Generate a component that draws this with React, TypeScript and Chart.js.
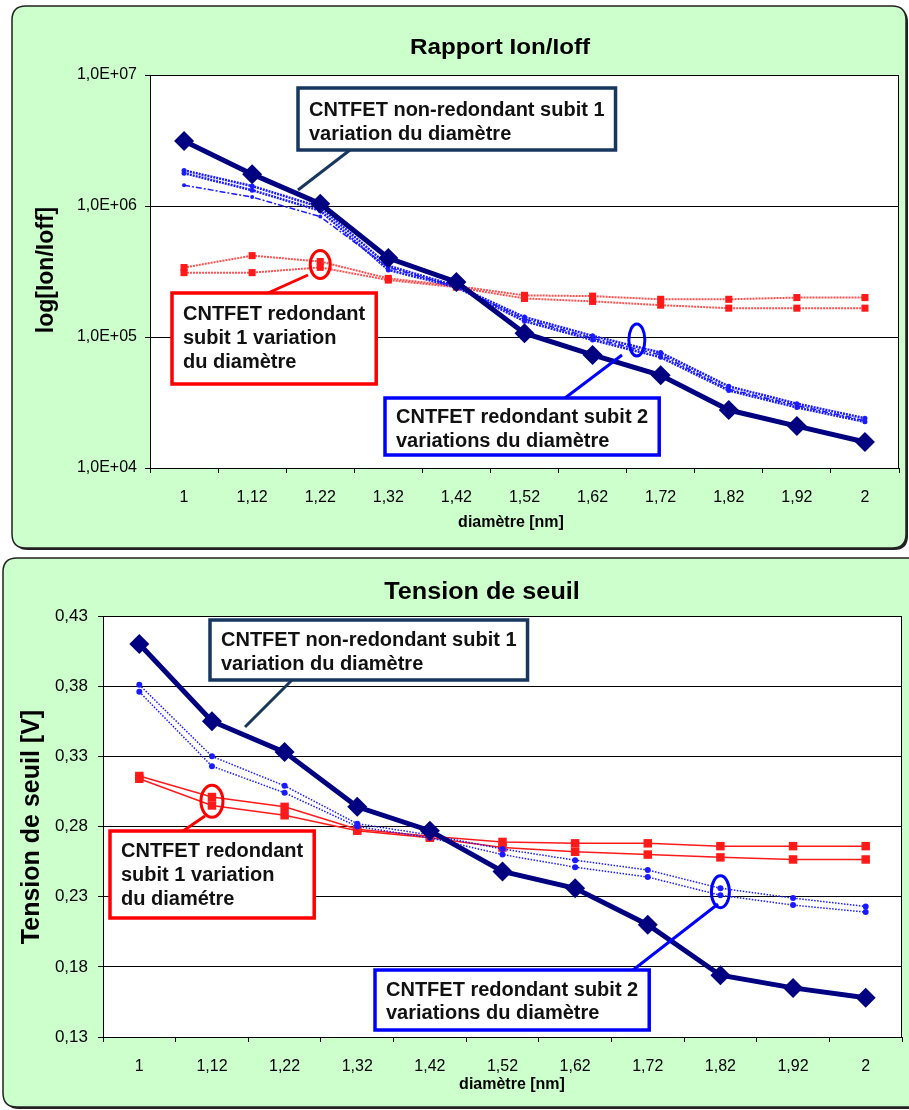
import React, { useEffect, useRef } from 'react';
import { Chart, registerables } from 'chart.js';

Chart.register(...registerables);

// ---------- data ----------
const diameters = ['1', '1,12', '1,22', '1,32', '1,42', '1,52', '1,62', '1,72', '1,82', '1,92', '2'];

// Rapport Ion/Ioff
const ratioNonRedondant = [3.13e6, 1.75e6, 1.04e6, 4.01e5, 2.63e5, 1.07e5, 7.3e4, 5.1e4, 2.77e4, 2.09e4, 1.58e4];
const ratioRed2A = [1.87e6, 1.42e6, 9.8e5, 3.5e5, 2.45e5, 1.42e5, 1.02e5, 7.6e4, 4.2e4, 3.1e4, 2.4e4];
const ratioRed2B = [1.78e6, 1.32e6, 9.2e5, 3.25e5, 2.4e5, 1.32e5, 9.5e4, 7.0e4, 3.9e4, 2.9e4, 2.25e4];
const ratioRed2C = [1.44e6, 1.17e6, 8.3e5, 3.4e5, 2.42e5, 1.37e5, 9.8e4, 7.3e4, 4.0e4, 3.0e4, 2.3e4];
const ratioRed1A = [3.39e5, 4.18e5, 3.77e5, 2.8e5, 2.45e5, 2.08e5, 2.05e5, 1.94e5, 1.94e5, 2.0e5, 2.0e5];
const ratioRed1B = [3.1e5, 3.1e5, 3.4e5, 2.72e5, 2.4e5, 1.97e5, 1.87e5, 1.75e5, 1.66e5, 1.66e5, 1.66e5];
const ratioTicks = [1e4, 1e5, 1e6, 1e7];

// Tension de seuil
const vthNonRedondant = [0.41, 0.355, 0.333, 0.294, 0.277, 0.248, 0.236, 0.21, 0.174, 0.165, 0.158];
const vthRed2A = [0.381, 0.33, 0.309, 0.282, 0.274, 0.264, 0.256, 0.249, 0.236, 0.229, 0.223];
const vthRed2B = [0.376, 0.323, 0.304, 0.28, 0.272, 0.26, 0.251, 0.244, 0.231, 0.224, 0.219];
const vthRed1A = [0.316, 0.301, 0.294, 0.278, 0.273, 0.269, 0.268, 0.268, 0.266, 0.266, 0.266];
const vthRed1B = [0.314, 0.295, 0.288, 0.277, 0.272, 0.265, 0.262, 0.26, 0.258, 0.2565, 0.2565];
const vthTicks = [0.13, 0.18, 0.23, 0.28, 0.33, 0.38, 0.43];

// ---------- styling helpers ----------
const FONT = "'Liberation Sans', Arial, sans-serif";
const NAVY = '#000080';
const BLUE = '#1a1aff';
const RED = '#ff1a1a';
const GREEN = '#ccffcc';

type TextOpts = { bold?: boolean; align?: CanvasTextAlign; sx?: number; rot?: number; color?: string };
function drawText(ctx: CanvasRenderingContext2D, s: string, x: number, y: number, size: number, o: TextOpts = {}) {
  ctx.save();
  ctx.translate(x, y);
  if (o.rot) ctx.rotate(o.rot);
  ctx.scale(o.sx ?? 1, 1);
  ctx.font = `${o.bold ? 'bold ' : ''}${size}px ${FONT}`;
  ctx.textAlign = o.align ?? 'center';
  ctx.textBaseline = 'middle';
  ctx.fillStyle = o.color ?? '#000';
  ctx.fillText(s, 0, 0);
  ctx.restore();
}

function roundRect(ctx: CanvasRenderingContext2D, x: number, y: number, w: number, h: number, r: number) {
  ctx.beginPath();
  ctx.moveTo(x + r, y);
  ctx.lineTo(x + w - r, y);
  ctx.quadraticCurveTo(x + w, y, x + w, y + r);
  ctx.lineTo(x + w, y + h - r);
  ctx.quadraticCurveTo(x + w, y + h, x + w - r, y + h);
  ctx.lineTo(x + r, y + h);
  ctx.quadraticCurveTo(x, y + h, x, y + h - r);
  ctx.lineTo(x, y + r);
  ctx.quadraticCurveTo(x, y, x + r, y);
  ctx.closePath();
}

type Box = { left: number; top: number; height: number; lines: string[]; lineY: number[]; color: string };
type Ell = { index: number; value: number; rx: number; ry: number; color: string };
type Leader = { x1: number; y1: number; x2: number; y2: number; color: string };
type Label = { text: string; x: number; y: number; size: number; sx?: number };
type PanelCfg = {
  panel: { x: number; y: number; w: number; h: number };
  title: Label;
  yTitle: Label;
  xTitle: Label;
  boxes: Box[];
  ellipses: Ell[];
  leaders: Leader[];
};

const BOX_FONT = 20;

function panelPlugin(cfg: PanelCfg) {
  return {
    id: 'panelDeco',
    beforeDraw(chart: any) {
      const ctx: CanvasRenderingContext2D = chart.ctx;
      const { x, y, w, h } = cfg.panel;
      ctx.save();
      roundRect(ctx, x + 2, y + 2, w, h, 14);
      ctx.fillStyle = '#222';
      ctx.fill();
      roundRect(ctx, x, y, w, h, 14);
      ctx.fillStyle = GREEN;
      ctx.fill();
      ctx.lineWidth = 1.5;
      ctx.strokeStyle = '#222';
      ctx.stroke();
      const a = chart.chartArea;
      ctx.fillStyle = '#fff';
      ctx.fillRect(a.left, a.top, a.right - a.left, a.bottom - a.top);
      ctx.restore();
      drawText(ctx, cfg.title.text, cfg.title.x, cfg.title.y, cfg.title.size, { bold: true, sx: cfg.title.sx });
      drawText(ctx, cfg.yTitle.text, cfg.yTitle.x, cfg.yTitle.y, cfg.yTitle.size, { bold: true, rot: -Math.PI / 2, sx: cfg.yTitle.sx });
      drawText(ctx, cfg.xTitle.text, cfg.xTitle.x, cfg.xTitle.y, cfg.xTitle.size, { bold: true, sx: cfg.xTitle.sx });
    },
    afterDatasetsDraw(chart: any) {
      const ctx: CanvasRenderingContext2D = chart.ctx;
      const a = chart.chartArea;
      ctx.save();
      ctx.strokeStyle = '#000';
      ctx.lineWidth = 1;
      ctx.strokeRect(a.left + 0.5, a.top + 0.5, a.right - a.left - 1, a.bottom - a.top);
      ctx.lineWidth = 3;
      for (const l of cfg.leaders) {
        ctx.strokeStyle = l.color;
        ctx.beginPath();
        ctx.moveTo(l.x1, l.y1);
        ctx.lineTo(l.x2, l.y2);
        ctx.stroke();
      }
      const xs = chart.scales.x;
      const ys = chart.scales.y;
      for (const e of cfg.ellipses) {
        const cx = xs.getPixelForValue(e.index);
        const cy = ys.getPixelForValue(e.value);
        ctx.strokeStyle = e.color;
        ctx.beginPath();
        ctx.ellipse(cx, cy, e.rx, e.ry, 0, 0, Math.PI * 2);
        ctx.stroke();
      }
      ctx.font = `bold ${BOX_FONT}px ${FONT}`;
      for (const b of cfg.boxes) {
        const tw = Math.max(...b.lines.map((s) => ctx.measureText(s).width));
        const w = tw + 22;
        ctx.fillStyle = '#fff';
        ctx.fillRect(b.left, b.top, w, b.height);
        ctx.strokeStyle = b.color;
        ctx.lineWidth = 3.5;
        ctx.strokeRect(b.left, b.top, w, b.height);
        b.lines.forEach((s, i) => drawText(ctx, s, b.left + 11, b.lineY[i], BOX_FONT, { bold: true, align: 'left', color: '#111' }));
      }
      ctx.restore();
    },
  };
}

function useChart(ref: React.RefObject<HTMLCanvasElement>, make: () => any) {
  useEffect(() => {
    if (!ref.current) return;
    const chart = new Chart(ref.current, make());
    return () => chart.destroy();
  }, []);
}

const tickFont = (size: number) => ({ family: FONT, size });

export default function App() {
  const ref1 = useRef<HTMLCanvasElement>(null);
  const ref2 = useRef<HTMLCanvasElement>(null);

  useChart(ref1, () => ({
    type: 'line',
    data: {
      labels: diameters,
      datasets: [
        { data: ratioNonRedondant, borderColor: NAVY, backgroundColor: NAVY, borderWidth: 5, pointStyle: 'rectRot', pointRadius: 10, pointBorderWidth: 0 },
        { data: ratioRed2A, borderColor: BLUE, backgroundColor: BLUE, borderWidth: 2.5, borderDash: [2, 1], pointRadius: 2.5, pointBorderWidth: 0 },
        { data: ratioRed2B, borderColor: BLUE, backgroundColor: BLUE, borderWidth: 2.5, borderDash: [2, 1], pointRadius: 2.5, pointBorderWidth: 0 },
        { data: ratioRed2C, borderColor: BLUE, backgroundColor: BLUE, borderWidth: 1.5, borderDash: [6, 2, 2, 2], pointRadius: 2, pointBorderWidth: 0 },
        { data: ratioRed1A, borderColor: '#ff5050', backgroundColor: RED, borderWidth: 2, borderDash: [2, 1], pointStyle: 'rect', pointRadius: 5, pointBorderWidth: 0 },
        { data: ratioRed1B, borderColor: '#ff5050', backgroundColor: RED, borderWidth: 2, borderDash: [2, 1], pointStyle: 'rect', pointRadius: 5, pointBorderWidth: 0 },
      ],
    },
    options: {
      animation: false,
      responsive: false,
      devicePixelRatio: 1,
      layout: { padding: { left: 0, right: 8, top: 75, bottom: 0 } },
      plugins: { legend: { display: false }, tooltip: { enabled: false } },
      scales: {
        x: {
          type: 'category',
          offset: true,
          grid: { offset: true, drawOnChartArea: false, drawTicks: true, tickLength: 5, color: '#000' },
          border: { color: '#000' },
          ticks: { color: '#000', font: tickFont(16), padding: 15, maxRotation: 0, autoSkip: false },
          afterFit: (s: any) => { s.height = 85; },
        },
        y: {
          type: 'logarithmic',
          min: 1e4,
          max: 1e7,
          afterBuildTicks: (s: any) => { s.ticks = ratioTicks.map((v) => ({ value: v })); },
          ticks: { color: '#000', font: tickFont(16), padding: 8, callback: (v: number) => `1,0E+0${Math.round(Math.log10(v))}` },
          grid: { color: '#000', tickLength: 5 },
          border: { color: '#000' },
          afterFit: (s: any) => { s.width = 150; },
        },
      },
    },
    plugins: [
      panelPlugin({
        panel: { x: 12, y: 6, w: 894, h: 542 },
        title: { text: 'Rapport Ion/Ioff', x: 500, y: 48, size: 22, sx: 1.1 },
        yTitle: { text: 'log[Ion/Ioff]', x: 47, y: 270, size: 23 },
        xTitle: { text: 'diamètre [nm]', x: 511, y: 523, size: 16 },
        boxes: [
          { left: 298, top: 88, height: 62, lines: ['CNTFET non-redondant subit 1', 'variation du diamètre'], lineY: [110, 134], color: '#17375e' },
          { left: 172, top: 293, height: 91, lines: ['CNTFET redondant', 'subit 1 variation', 'du diamètre'], lineY: [314, 338, 362], color: '#ff0000' },
          { left: 385, top: 398, height: 57, lines: ['CNTFET redondant subit 2', 'variations du diamètre'], lineY: [417, 441], color: '#0000ff' },
        ],
        ellipses: [
          { index: 2, value: 3.58e5, rx: 10, ry: 14, color: '#ff0000' },
          { index: 6.65, value: 9.5e4, rx: 8, ry: 16, color: '#0000ff' },
        ],
        leaders: [
          { x1: 350, y1: 150, x2: 298, y2: 190, color: '#17375e' },
          { x1: 308, y1: 275, x2: 268, y2: 293, color: '#ff0000' },
          { x1: 622, y1: 355, x2: 565, y2: 398, color: '#0000ff' },
        ],
      }),
    ],
  }));

  useChart(ref2, () => ({
    type: 'line',
    data: {
      labels: diameters,
      datasets: [
        { data: vthNonRedondant, borderColor: NAVY, backgroundColor: NAVY, borderWidth: 5, pointStyle: 'rectRot', pointRadius: 10, pointBorderWidth: 0 },
        { data: vthRed2A, borderColor: BLUE, backgroundColor: BLUE, borderWidth: 1.5, borderDash: [1.5, 1.5], pointRadius: 3, pointBorderWidth: 0 },
        { data: vthRed2B, borderColor: BLUE, backgroundColor: BLUE, borderWidth: 1.5, borderDash: [1.5, 1.5], pointRadius: 3, pointBorderWidth: 0 },
        { data: vthRed1A, borderColor: RED, backgroundColor: RED, borderWidth: 1.5, pointStyle: 'rect', pointRadius: 6, pointBorderWidth: 0 },
        { data: vthRed1B, borderColor: RED, backgroundColor: RED, borderWidth: 1.5, pointStyle: 'rect', pointRadius: 6, pointBorderWidth: 0 },
      ],
    },
    options: {
      animation: false,
      responsive: false,
      devicePixelRatio: 1,
      layout: { padding: { left: 0, right: 4, top: 63, bottom: 0 } },
      plugins: { legend: { display: false }, tooltip: { enabled: false } },
      scales: {
        x: {
          type: 'category',
          offset: true,
          grid: { offset: true, drawOnChartArea: false, drawTicks: true, tickLength: 5, color: '#000' },
          border: { color: '#000' },
          ticks: { color: '#000', font: tickFont(16), padding: 15, maxRotation: 0, autoSkip: false },
          afterFit: (s: any) => { s.height = 73; },
        },
        y: {
          type: 'linear',
          min: 0.13,
          max: 0.43,
          afterBuildTicks: (s: any) => { s.ticks = vthTicks.map((v) => ({ value: v })); },
          ticks: { color: '#000', font: tickFont(17), padding: 10, callback: (v: number) => v.toFixed(2).replace('.', ',') },
          grid: { color: '#000', tickLength: 5 },
          border: { color: '#000' },
          afterFit: (s: any) => { s.width = 103; },
        },
      },
    },
    plugins: [
      panelPlugin({
        panel: { x: 3, y: 5, w: 930, h: 549 },
        title: { text: 'Tension de seuil', x: 482, y: 39, size: 24, sx: 1.05 },
        yTitle: { text: 'Tension de seuil [V]', x: 32, y: 274, size: 25 },
        xTitle: { text: 'diamètre [nm]', x: 512, y: 532, size: 16 },
        boxes: [
          { left: 210, top: 67, height: 60, lines: ['CNTFET non-redondant subit 1', 'variation du diamètre'], lineY: [87, 111], color: '#17375e' },
          { left: 110, top: 278, height: 87, lines: ['CNTFET redondant', 'subit 1 variation', 'du diamétre'], lineY: [298, 322, 346], color: '#ff0000' },
          { left: 375, top: 417, height: 60, lines: ['CNTFET redondant subit 2', 'variations du diamètre'], lineY: [437, 460], color: '#0000ff' },
        ],
        ellipses: [
          { index: 1, value: 0.298, rx: 11, ry: 16, color: '#ff0000' },
          { index: 8, value: 0.2335, rx: 9, ry: 16, color: '#0000ff' },
        ],
        leaders: [
          { x1: 292, y1: 127, x2: 245, y2: 174, color: '#17375e' },
          { x1: 205, y1: 263, x2: 183, y2: 278, color: '#ff0000' },
          { x1: 718, y1: 351, x2: 633, y2: 417, color: '#0000ff' },
        ],
      }),
    ],
  }));

  return (
    <div style={{ position: 'absolute', left: 0, top: 0, width: 909, height: 1110, overflow: 'hidden', background: '#fff' }}>
      <canvas ref={ref1} width={909} height={553} style={{ position: 'absolute', left: 0, top: 0, display: 'block' }} />
      <canvas ref={ref2} width={912} height={557} style={{ position: 'absolute', left: 0, top: 553, display: 'block' }} />
    </div>
  );
}
